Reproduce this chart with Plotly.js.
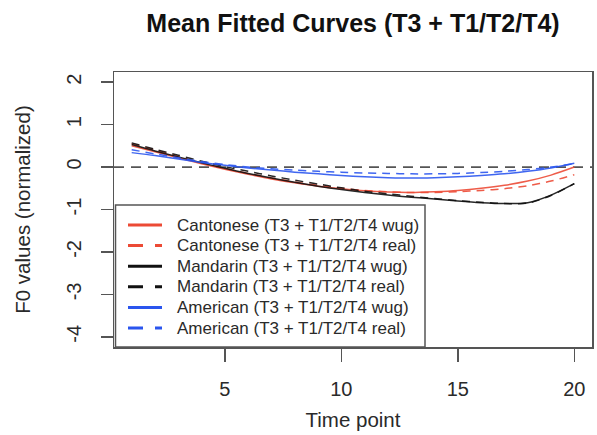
<!DOCTYPE html>
<html>
<head>
<meta charset="utf-8">
<script src="https://cdn.plot.ly/plotly-3.0.1.min.js"></script>
<style>html,body{margin:0;padding:0;background:#fff;}#chart{width:597px;height:435px;}</style>
</head>
<body>
<div id="chart"></div>
<script>
// ---- data ----
var timePoints = [1,2,3,4,5,6,7,8,9,10,11,12,13,14,15,16,17,18,19,20];
var cantoneseWug  = [0.50,0.36,0.22,0.08,-0.05,-0.17,-0.28,-0.37,-0.45,-0.51,-0.56,-0.59,-0.60,-0.58,-0.55,-0.50,-0.43,-0.33,-0.19,0.00];
var cantoneseReal = [0.55,0.40,0.25,0.10,-0.03,-0.15,-0.26,-0.35,-0.43,-0.50,-0.55,-0.58,-0.60,-0.60,-0.58,-0.55,-0.51,-0.44,-0.33,-0.18];
var mandarinWug   = [0.53,0.38,0.24,0.10,-0.03,-0.15,-0.26,-0.36,-0.45,-0.53,-0.60,-0.66,-0.71,-0.75,-0.80,-0.84,-0.86,-0.84,-0.66,-0.39];
var mandarinReal  = [0.57,0.42,0.28,0.14,0.01,-0.10,-0.21,-0.31,-0.40,-0.49,-0.57,-0.63,-0.69,-0.74,-0.79,-0.83,-0.86,-0.85,-0.67,-0.39];
var americanWug   = [0.34,0.27,0.19,0.11,0.04,-0.02,-0.07,-0.12,-0.16,-0.20,-0.23,-0.25,-0.26,-0.25,-0.23,-0.20,-0.16,-0.10,-0.02,0.09];
var americanReal  = [0.41,0.31,0.22,0.13,0.06,0.00,-0.04,-0.07,-0.10,-0.12,-0.14,-0.15,-0.16,-0.16,-0.15,-0.13,-0.10,-0.06,0.00,0.08];
var seriesNames = [
  "Cantonese (T3 + T1/T2/T4 wug)",
  "Cantonese (T3 + T1/T2/T4 real)",
  "Mandarin (T3 + T1/T2/T4 wug)",
  "Mandarin (T3 + T1/T2/T4 real)",
  "American (T3 + T1/T2/T4 wug)",
  "American (T3 + T1/T2/T4 real)"
];
var xTicks = [5,10,15,20];
var yTicks = [-4,-3,-2,-1,0,1,2];

// ---- styling ----
var RED = "#ec4a35", BLACK = "#111111", BLUE = "#2a55ee";
var seriesValues = [cantoneseWug, cantoneseReal, mandarinWug, mandarinReal, americanWug, americanReal];
var colors = [RED, RED, BLACK, BLACK, BLUE, BLUE];
var dashes = ["solid","8px,6px","solid","8px,6px","solid","8px,6px"];
var FONT = "Liberation Sans, Arial, Helvetica, sans-serif";
var AX = "#555555";

var traces = seriesValues.map(function(v,i){
  return {x: timePoints, y: v, type: "scatter", mode: "lines", name: seriesNames[i],
          line: {color: colors[i], width: 1.5, dash: dashes[i], shape: "spline", smoothing: 0.8},
          opacity: 0.9, showlegend: false, hoverinfo: "skip"};
});

// manual R-style legend (bottom-left)
var ML = 114, MR = 5, MT = 72, MB = 88, W = 597, H = 435;
var pw = W - ML - MR, ph = H - MT - MB;
function px2x(p){ return (p - ML)/pw; }
function py2y(p){ return (H - MB - p)/ph; }
var shapes = [
  {type:"line", xref:"paper", yref:"y", x0:0, x1:1, y0:0, y1:0,
   line:{color:"#555555", width:1.8, dash:"10px,7px"}, layer:"below"},
  {type:"rect", xref:"paper", yref:"paper", x0:px2x(115.5), x1:px2x(425), y0:0, y1:py2y(205),
   line:{color:AX, width:1.5}, fillcolor:"#ffffff", layer:"below"}
];
var annotations = [];
var rowY0 = 225, rowStep = 20.6;
for (var i=0;i<seriesNames.length;i++){
  var yy = py2y(rowY0 + i*rowStep);
  shapes.push({type:"line", xref:"paper", yref:"paper", x0:px2x(128), x1:px2x(162), y0:yy, y1:yy,
    line:{color:colors[i], width:3, dash: dashes[i]==="solid" ? "solid" : "15px,12px"}});
  annotations.push({xref:"paper", yref:"paper", x:px2x(175), y:yy, xanchor:"left", yanchor:"middle",
    text: seriesNames[i], showarrow:false, font:{family:FONT, size:17, color:"#2a2a2a"}});
}

var layout = {
  width: W, height: H,
  margin: {l: ML, r: MR, t: MT, b: MB, pad: 0},
  paper_bgcolor: "#fff", plot_bgcolor: "#fff",
  font: {family: FONT, color: "#222"},
  title: {text: "<b>Mean Fitted Curves (T3 + T1/T2/T4)</b>", x: 0.5, xref: "paper",
          y: 1 - 23/H, yref: "container", yanchor: "middle",
          font: {family: FONT, size: 25, color: "#111"}},
  xaxis: {range: [0.24, 20.76], tickvals: xTicks, ticktext: xTicks.map(String),
          ticks: "outside", ticklen: 13, tickwidth: 1.5, tickcolor: AX,
          showline: true, mirror: true, linecolor: AX, linewidth: 1.5,
          showgrid: false, zeroline: false, ticklabelstandoff: 10,
          tickfont: {family: FONT, size: 20, color: "#2a2a2a"},
          title: {text: "Time point", standoff: 14, font: {family: FONT, size: 20.5, color: "#2a2a2a"}}},
  yaxis: {range: [-4.24, 2.24], tickvals: yTicks, ticktext: yTicks.map(String),
          ticks: "outside", ticklen: 12, tickwidth: 1.5, tickcolor: AX, tickangle: -90,
          showline: true, mirror: true, linecolor: AX, linewidth: 1.5,
          showgrid: false, zeroline: false, ticklabelstandoff: 12,
          tickfont: {family: FONT, size: 20, color: "#2a2a2a"},
          title: {text: "F0 values (normalized)", standoff: 26, font: {family: FONT, size: 20.5, color: "#2a2a2a"}}},
  shapes: shapes,
  annotations: annotations,
  showlegend: false
};

Plotly.newPlot("chart", traces, layout, {displayModeBar: false, staticPlot: true});
</script>
</body>
</html>
